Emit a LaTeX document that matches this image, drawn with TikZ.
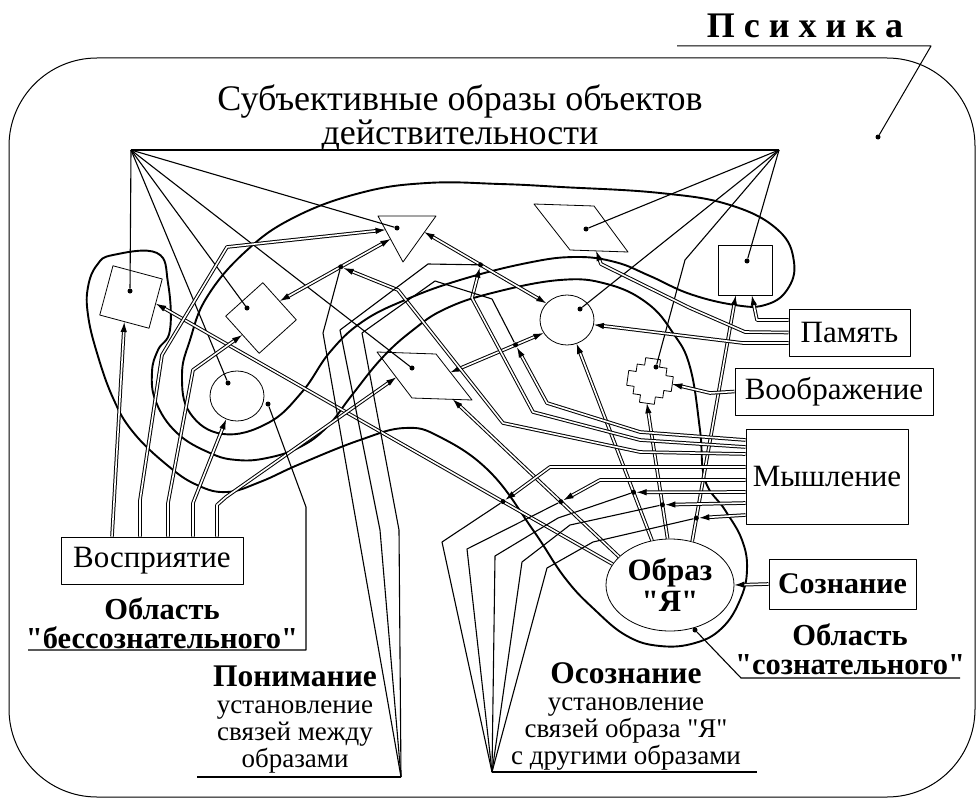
\documentclass[tikz,border=0pt]{standalone}
\usepackage{fontspec}
\setmainfont{Liberation Serif}[Ligatures=TeXOff]
\usetikzlibrary{arrows.meta,shapes.geometric,calc,positioning}
\begin{document}
\begin{tikzpicture}[x=1pt, y=-1pt, line join=round,
		img/.style = {draw, line width=0.8pt, inner sep=0pt},
		box/.style = {draw, line width=1pt, inner sep=0pt, font=\fontsize{31}{32}\selectfont},
		lnk/.style = {line width=1.1pt},
		dbl/.style = {double, double distance=1.6pt, line width=1pt, -{Latex[length=10pt,width=6.5pt]}},
		dbl2/.style = {dbl, {Latex[length=10pt,width=6.5pt]}-{Latex[length=10pt,width=6.5pt]}},
		area/.style = {line width=1.9pt},
		pnt/.style = {circle, fill, inner sep=0pt, minimum size=5pt},
		lbl/.style = {align=center, font=\fontsize{27}{27}\selectfont},
		bld/.style = {align=center, font=\bfseries\fontsize{30.5}{29}\selectfont}]
		\useasboundingbox (0,0) rectangle (977,800);
		\draw[line width=1pt, rounded corners=88pt] (9,58) rectangle (975,797);
		\node[font=\fontsize{36}{34}\selectfont, align=center] (ttl) at (460,118) {Субъективные образы объектов\\действительности};
		\node[font=\bfseries\fontsize{36}{36}\selectfont, anchor=base] (psy) at (805,38) {П с и х и к а};
		\node[pnt] (pd) at (878,137) {};
		\coordinate (psyL) at (677,46);
		\coordinate (psyR) at (931,46);
		\draw[line width=1pt] (psyL) -- (psyR) -- (pd);
		\draw[area] plot[smooth cycle, tension=.7] coordinates {(223,434) (190,413) (182,375) (190,340) (207,297) (245,252) (293,218) (360,193) (427,183) (500,184) (561,187) (660,193) (730,205) (778,230) (794,262) (787,290) (765,305) (735,305) (690,294) (650,276) (615,262) (575,257) (527,263) (460,280) (405,300) (362,322) (330,352) (302,392) (268,423)};
		\draw[area] plot[smooth cycle, tension=.7] coordinates {(113,255) (157,253) (168,283) (170,330) (158,350) (152,372) (156,402) (177,433) (210,453) (237,460) (267,458) (300,447) (327,427) (352,395) (382,358) (413,330) (445,309) (492,293) (560,280) (607,284) (647,303) (673,333) (690,367) (700,430) (705,480) (725,510) (742,540) (747,570) (740,600) (722,628) (695,643) (660,646) (627,636) (595,610) (565,578) (533,530) (490,472) (440,437) (405,428) (360,440) (300,464) (260,482) (227,492) (197,485) (167,465) (133,432) (113,398) (97,353) (88,315) (88,287) (97,265)};
		\node[img, minimum size=51pt, rotate=-15] (isq) at (131,297) {};
		\node[img, minimum size=50pt, rotate=42] (idm) at (261,318) {};
		\node[img, ellipse, minimum width=54pt, minimum height=50pt] (iel) at (237,396) {};
		\node[img, ellipse, minimum width=54pt, minimum height=50pt] (icr) at (567,320) {};
		\node[img, minimum width=54pt, minimum height=50pt] (isr) at (745,270) {};
		\node[img, ellipse, minimum width=128pt, minimum height=92pt, font=\bfseries\fontsize{31}{31}\selectfont, align=center] (ija) at (670,585) {Образ\\"Я"};
		\coordinate (tA) at (378,216);
		\coordinate (tB) at (436,216);
		\coordinate (tC) at (403,262);
		\draw[img] (tA) -- (tB) -- (tC) -- cycle;
		\coordinate (pA) at (377,352);
		\coordinate (pB) at (436,354);
		\coordinate (pC) at (472,400);
		\coordinate (pD) at (412,398);
		\draw[img] (pA) -- (pB) -- (pC) -- (pD) -- cycle;
		\coordinate (qA) at (534,204);
		\coordinate (qB) at (594,206);
		\coordinate (qC) at (628,252);
		\coordinate (qD) at (570,250);
		\draw[img] (qA) -- (qB) -- (qC) -- (qD) -- cycle;
		\begin{scope}[shift={(650,381)}, rotate=-8]
			\draw[img] (-7.5,-22.5) -- (7.5,-22.5) -- (7.5,-15) -- (15,-15) -- (15,-7.5) -- (22.5,-7.5) -- (22.5,7.5) -- (15,7.5) -- (15,15) -- (7.5,15) -- (7.5,22.5) -- (-7.5,22.5) -- (-7.5,15) -- (-15,15) -- (-15,7.5) -- (-22.5,7.5) -- (-22.5,-7.5) -- (-15,-7.5) -- (-15,-15) -- (-7.5,-15) -- cycle;
			\coordinate (csR) at (22.5,0);
			\coordinate (csB) at (0,22.5);
		\end{scope}
		\node[box, minimum width=121pt, minimum height=47pt] (mem) at (849.5,332.5) {Память};
		\node[box, minimum width=198pt, minimum height=47pt] (imag) at (834,391.5) {Воображение};
		\node[box, minimum width=162pt, minimum height=95pt] (thk) at (827,476.5) {Мышление};
		\node[box, minimum width=147pt, minimum height=50pt, font=\bfseries\fontsize{30}{31}\selectfont] (cons) at (842.5,584) {Сознание};
		\node[box, minimum width=182pt, minimum height=47pt] (perc) at (152,560.5) {Восприятие};
		\node[bld] (lbU) at (162,623) {Область\\"бессознательного"};
		\node[bld] (lbC) at (850,649) {Область\\"сознательного"};
		\node[lbl] (und) at (295,720) {\textbf{\fontsize{31.5}{27}\selectfont Понимание}\\установление\\связей между\\образами};
		\node[lbl] (aw) at (626,716) {\textbf{\fontsize{31.5}{27}\selectfont Осознание}\\установление\\связей образа "Я"\\с другими образами};
		\node[pnt] (dSq) at (130,291) {};
		\node[pnt] (dDm) at (247,308) {};
		\node[pnt] (dEl) at (228,383) {};
		\node[pnt] (dTr) at (397,228) {};
		\node[pnt] (dPl) at (412,368) {};
		\node[pnt] (dPt) at (586,229) {};
		\node[pnt] (dCr) at (580,309) {};
		\node[pnt] (dCs) at (656,367) {};
		\node[pnt] (dSr) at (747,261) {};
		\coordinate (hl) at (131,150);
		\coordinate (hr) at (779,150);
		\draw[lnk] (hl) -- (hr);
		\foreach \d in {dSq,dDm,dEl,dTr,dPl}
			\draw[lnk] (hl) -- (\d);
		\foreach \d in {dPt,dCr,dSr}
			\draw[lnk] (hr) -- (\d);
		\draw[lnk] (hr) -- (685,260) -- (dCs);
		\draw[dbl2] (idm.east) -- node[pnt, pos=.55] (dLa) {} ($(tA)!.5!(tC)$);
		\draw[dbl2] ($(tB)!.35!(tC)$) -- node[pnt, pos=.46] (dLb) {} (icr.141);
		\draw[dbl2] ($(pB)!.4!(pC)$) -- node[pnt, pos=.7] (dLc) {} (icr.-151);
		\draw[dbl] (ija.112) -- node[pnt, pos=.245] (dJ1) {} (icr.-68);
		\draw[dbl] (ija.93) -- node[pnt, pos=.25] (dJ2) {} (csB);
		\draw[dbl] (ija.63) -- node[pnt, pos=.095] (dJ3) {} (isr.-110);
		\draw[dbl] (ija.151) -- node[pnt, pos=.35] (dJ4) {} ($(pD)!.68!(pC)$);
		\draw[dbl] (ija.160) -- node[pnt, pos=.24] (dJ5) {} (isq.east);
		\draw[dbl] (thk.west |- 0,440) -- (640,432) -- (547,403) -- (dLc);
		\draw[dbl] (thk.west |- 0,447) -- (640,440) -- (533,412) -- (472,298) -- (dLb);
		\draw[dbl] (thk.west |- 0,454) -- (640,452) -- (503,423) -- (398,290) -- (dLa);
		\draw[dbl] (thk.west |- 0,467) -- (550,467) -- (dJ5);
		\draw[dbl] (thk.west |- 0,480) -- (600,480) -- (dJ4);
		\draw[dbl] (thk.west |- 0,492) -- (dJ1);
		\draw[dbl] (thk.west |- 0,503) -- (dJ2);
		\draw[dbl] (thk.west |- 0,515) -- (dJ3);
		\draw[dbl] (perc.north -| 112,0) -- (isq.south);
		\draw[dbl] (perc.north -| 140,0) -- (140,500) -- (162,355) -- (227,247) -- ($(tA)!.3!(tC)$);
		\draw[dbl] (perc.north -| 168,0) -- (168,503) -- (193,370) -- (idm.west);
		\draw[dbl] (perc.north -| 193,0) -- (193,503) -- (iel.-115);
		\draw[dbl] (perc.north -| 217,0) -- (217,505) -- (226,497) -- ($(pA)!.55!(pD)$);
		\draw[dbl] (mem.west |- 0,320) -- (757,320) -- (isr.-75);
		\draw[dbl] (mem.west) -- (745,332) -- (690,308) -- (613,270) -- (601,264) -- ($(qD)!.45!(qC)$);
		\draw[dbl] (mem.west |- 0,343) -- (743,343) -- (icr.-10);
		\draw[dbl] (imag.west) -- (710,393) -- (csR);
		\draw[dbl] (cons.west) -- (ija.east);
		\coordinate (fanP) at (401,777);
		\coordinate (undL) at (197,777);
		\draw[lnk] (undL) -- (fanP);
		\draw[lnk] (fanP) -- (323,333) -- (dLa);
		\draw[lnk] (fanP) -- (380,530) -- (340,330) -- (428,264) -- (dLb);
		\draw[lnk] (fanP) -- (399,530) -- (362,333) -- (435,281) -- (492,299) -- (dLc);
		\coordinate (fanO) at (492,772);
		\coordinate (awR) at (757,772);
		\draw[lnk] (fanO) -- (awR);
		\draw[lnk] (fanO) -- (442,542) -- (dJ5);
		\draw[lnk] (fanO) -- (467,549) -- (dJ4);
		\draw[lnk] (fanO) -- (495,556) -- (558,518) -- (dJ1);
		\draw[lnk] (fanO) -- (522,562) -- (570,525) -- (dJ2);
		\draw[lnk] (fanO) -- (547,568) -- (593,542) -- (dJ3);
		\node[pnt] (dU) at (268,404) {};
		\coordinate (lbUL) at (28,650);
		\draw[lnk] (dU) -- (306,507) -- (306,650) -- (lbUL);
		\node[pnt] (dC) at (695,630) {};
		\coordinate (lbCR) at (960,678);
		\draw[lnk] (dC) -- (741,678) -- (lbCR);
\end{tikzpicture}
\end{document}
